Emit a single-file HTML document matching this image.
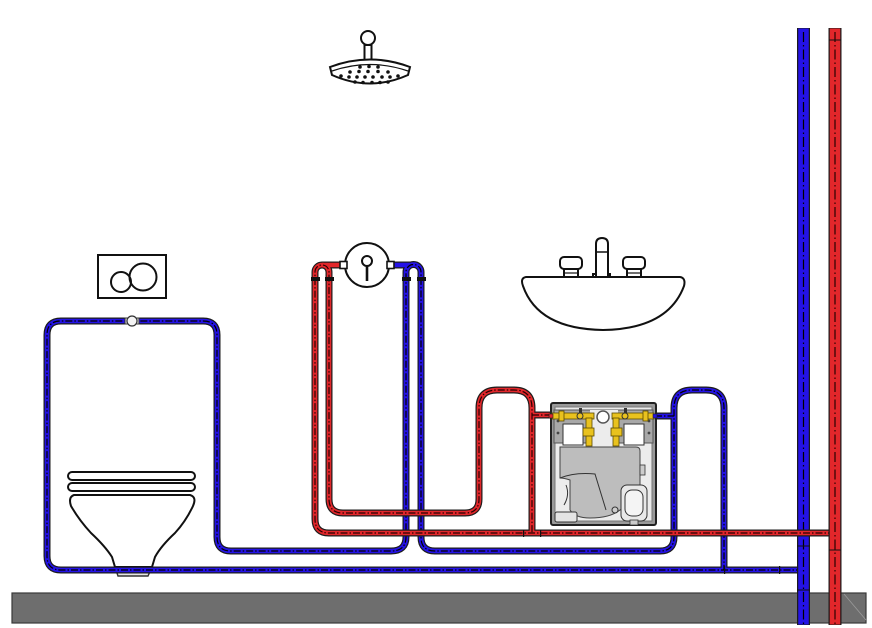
<!DOCTYPE html>
<html><head><meta charset="utf-8"><style>
html,body{margin:0;padding:0;background:#fff;}
svg{display:block;}
</style></head><body>
<svg width="872" height="628" viewBox="0 0 872 628" xmlns="http://www.w3.org/2000/svg">
<defs>
<style>
.po{fill:none;stroke:#1c1c1c;stroke-width:7;stroke-linejoin:round;}
.pb{fill:none;stroke:#2412e6;stroke-width:4.6;stroke-linejoin:round;}
.pr{fill:none;stroke:#e2272b;stroke-width:4.6;stroke-linejoin:round;}
.dc{fill:none;stroke:#000;stroke-width:1.2;stroke-dasharray:7 2 1.5 2;}
.dr{fill:none;stroke:#2a0000;stroke-width:1.2;stroke-dasharray:7 2 1.5 2;}
.ln{fill:#fff;stroke:#111;stroke-width:2;}
</style>
<path id="b1" fill="none" d="M803,570 H61 Q47,570 47,556 V335 Q47,321 61,321 H203 Q217,321 217,335 V537 Q217,551 231,551 H391 Q406,551 406,537 V272 A7.5,7.5 0 0 1 421,272 V537 Q421,551 435,551 H660 Q674,551 674,537 V408 Q674,390 692,390 H706 Q724,390 724,408 V570"/>
<path id="r1" fill="none" d="M835,533 H329 Q315,533 315,519 V272 A7,7 0 0 1 329,272 V499 Q329,513 343,513 H465 Q479,513 479,499 V408 Q479,390 497,390 H514 Q532,390 532,408 V533"/>
</defs>

<!-- floor -->
<rect x="12" y="593" width="854" height="30" fill="#6e6e6e" stroke="#3a3a3a" stroke-width="1.2"/>
<line x1="844" y1="594" x2="866" y2="620" stroke="#9a9a9a" stroke-width="0.8"/>

<!-- shower head -->
<circle cx="368" cy="38" r="7" class="ln" stroke-width="2.5"/>
<rect x="364.5" y="45" width="7" height="16" class="ln" stroke-width="2"/>
<path d="M330,67 Q370,52 410,67 L408,75 Q370,92 332,75 Z" class="ln" stroke-width="2.2"/>
<path d="M332,71 Q370,58 408,71" fill="none" stroke="#111" stroke-width="1.2"/>
<g fill="#111">
<circle cx="360" cy="67" r="1.8"/><circle cx="369" cy="66.5" r="1.8"/><circle cx="378" cy="67" r="1.8"/>
<circle cx="350" cy="72" r="1.8"/><circle cx="359" cy="71.5" r="1.8"/><circle cx="368" cy="71.5" r="1.8"/><circle cx="378" cy="71.5" r="1.8"/><circle cx="388" cy="72" r="1.8"/>
<circle cx="341" cy="76" r="1.8"/><circle cx="349" cy="77" r="1.8"/><circle cx="357" cy="77" r="1.8"/><circle cx="365" cy="77" r="1.8"/><circle cx="373" cy="77" r="1.8"/><circle cx="382" cy="77" r="1.8"/><circle cx="390" cy="77" r="1.8"/><circle cx="398" cy="76" r="1.8"/>
<circle cx="355" cy="82" r="1.8"/><circle cx="363" cy="82.5" r="1.8"/><circle cx="372" cy="82.5" r="1.8"/><circle cx="380" cy="82.5" r="1.8"/><circle cx="388" cy="82" r="1.8"/>
</g>

<!-- sink -->
<rect x="593" y="274" width="17" height="4" class="ln" stroke-width="1.6"/>
<path d="M596,277 V244 Q596,238 602,238 Q608,238 608,244 V277" class="ln" stroke-width="2"/>
<line x1="596" y1="252" x2="608" y2="252" stroke="#111" stroke-width="1.5"/>
<rect x="564" y="266" width="14" height="11" class="ln" stroke-width="1.8"/>
<line x1="564" y1="273" x2="578" y2="273" stroke="#111" stroke-width="1.2"/>
<rect x="560" y="257" width="22" height="12" rx="4" class="ln" stroke-width="2"/>
<rect x="627" y="266" width="14" height="11" class="ln" stroke-width="1.8"/>
<line x1="627" y1="273" x2="641" y2="273" stroke="#111" stroke-width="1.2"/>
<rect x="623" y="257" width="22" height="12" rx="4" class="ln" stroke-width="2"/>
<path d="M526,277 H680 Q686,278 684,286 Q668,329 603,330 Q538,329 523,286 Q520,278 526,277 Z" class="ln" stroke-width="2.2"/>

<!-- flush plate -->
<rect x="98" y="255" width="68" height="43" class="ln" stroke-width="2"/>
<circle cx="121" cy="282" r="10" fill="none" stroke="#111" stroke-width="2"/>
<circle cx="143" cy="277" r="13.5" fill="none" stroke="#111" stroke-width="2"/>

<!-- toilet -->
<rect x="68" y="472" width="127" height="8" rx="4" class="ln" stroke-width="2"/>
<rect x="68" y="483" width="127" height="8" rx="4" class="ln" stroke-width="2"/>
<path d="M74,495 H190 Q197,497 193,506 Q186,521 175,533 Q161,546 155,557 L152,567 H115 L112,557 Q105,546 91,533 Q79,520 71,506 Q68,497 74,495 Z" class="ln" stroke-width="2"/>
<path d="M115,567 L118,576 H148 L152,567" fill="#e6e6e6" stroke="#333" stroke-width="1.4"/>

<!-- ===== BLUE PIPES ===== -->
<use href="#b1" class="po"/>
<path d="M390,265 H410 M655,416 H674" class="po"/>
<use href="#b1" class="pb"/>
<path d="M390,265 H410 M655,416 H674" class="pb"/>
<use href="#b1" class="dc"/>
<path d="M655,416 H674" class="dc"/>

<!-- blue riser -->
<line x1="803.5" y1="28" x2="803.5" y2="625" stroke="#1c1c1c" stroke-width="13"/>
<line x1="803.5" y1="28.5" x2="803.5" y2="624.5" stroke="#2412e6" stroke-width="10.5"/>
<line x1="803.5" y1="32" x2="803.5" y2="624" stroke="#000" stroke-width="1.2" stroke-dasharray="10 3 1.5 3"/>
<g stroke="#111" stroke-width="1">
<line x1="797" y1="546" x2="810" y2="546"/><line x1="797" y1="590" x2="810" y2="590"/>
</g>

<!-- ===== RED PIPES ===== -->
<use href="#r1" class="po"/>
<path d="M322,265 H346 M532,415 H554" class="po"/>
<use href="#r1" class="pr"/>
<path d="M322,265 H346 M532,415 H554" class="pr"/>
<use href="#r1" class="dr"/>
<path d="M532,415 H554" class="dr"/>

<!-- red riser -->
<line x1="835" y1="28" x2="835" y2="625" stroke="#1c1c1c" stroke-width="13"/>
<line x1="835" y1="28.5" x2="835" y2="624.5" stroke="#e2272b" stroke-width="10.5"/>
<line x1="835" y1="32" x2="835" y2="624" stroke="#2a0000" stroke-width="1.2" stroke-dasharray="10 3 1.5 3"/>
<g stroke="#111" stroke-width="1">
<line x1="829" y1="40" x2="841" y2="40"/><line x1="829" y1="550" x2="841" y2="550"/>
</g>

<!-- fittings / ticks -->
<g fill="#111">
<rect x="311" y="277" width="9" height="4"/><rect x="325" y="277" width="9" height="4"/>
<rect x="402" y="277" width="9" height="4"/><rect x="417" y="277" width="9" height="4"/>
<rect x="523" y="530" width="1.2" height="7"/><rect x="540" y="530" width="1.2" height="7"/>
<rect x="724" y="566" width="1.2" height="8"/><rect x="779" y="566" width="1.2" height="8"/>
</g>

<!-- toilet loop fitting -->
<rect x="125" y="318" width="14" height="6" fill="#ddd" stroke="#333" stroke-width="1"/>
<circle cx="132" cy="321" r="5" fill="#f4f4f4" stroke="#333" stroke-width="1.2"/>

<!-- shower valve -->
<circle cx="367" cy="265" r="22" class="ln" stroke-width="2"/>
<rect x="340" y="261.5" width="7" height="7" fill="#fff" stroke="#111" stroke-width="1.6"/>
<rect x="387" y="261.5" width="7" height="7" fill="#fff" stroke="#111" stroke-width="1.6"/>
<circle cx="367" cy="261" r="5" fill="#fff" stroke="#111" stroke-width="2"/>
<line x1="367" y1="266" x2="367" y2="281" stroke="#111" stroke-width="2.6"/>

<!-- concealed module box -->
<rect x="551" y="403" width="105" height="122" rx="2" fill="#9a9a9a" stroke="#222" stroke-width="2"/>
<rect x="555" y="407" width="97" height="114" fill="#ececec" stroke="#777" stroke-width="1"/>
<rect x="554" y="410" width="99" height="33" fill="#a8a8a8" stroke="#555" stroke-width="1"/>
<circle cx="558" cy="433" r="1.4" fill="#444"/><circle cx="649" cy="433" r="1.4" fill="#444"/>
<circle cx="558" cy="421" r="1.4" fill="#444"/><circle cx="649" cy="421" r="1.4" fill="#444"/>
<rect x="563" y="424" width="20" height="21" fill="#fff" stroke="#333" stroke-width="1"/>
<rect x="624" y="424" width="20" height="21" fill="#fff" stroke="#333" stroke-width="1"/>
<rect x="590" y="410" width="28" height="35" fill="#ececec"/>
<circle cx="603" cy="417" r="6" fill="#fff" stroke="#555" stroke-width="1.5"/>
<g fill="#e9c21e" stroke="#5a4a00" stroke-width="0.8">
<rect x="552" y="413" width="42" height="6"/>
<rect x="612" y="413" width="42" height="6"/>
<rect x="586" y="418" width="6" height="28"/>
<rect x="613" y="418" width="6" height="28"/>
<rect x="559" y="411" width="5" height="10"/><rect x="643" y="411" width="5" height="10"/>
<rect x="583" y="428" width="11" height="8"/><rect x="611" y="428" width="11" height="8"/>
</g>
<circle cx="580" cy="416" r="3" fill="#e9c21e" stroke="#333" stroke-width="1"/>
<circle cx="625" cy="416" r="3" fill="#e9c21e" stroke="#333" stroke-width="1"/>
<rect x="579" y="408" width="3" height="5" fill="#333"/><rect x="624" y="408" width="3" height="5" fill="#333"/>
<rect x="549" y="414" width="4" height="4" fill="#e2272b" stroke="#222" stroke-width="0.6"/>
<rect x="653" y="414" width="4" height="4" fill="#2412e6" stroke="#222" stroke-width="0.6"/>
<path d="M560,447 H636 Q640,447 640,451 V498 Q630,505 620,510 Q610,518 590,518 Q575,518 570,510 V480 Q564,478 560,478 Z" fill="#bdbdbd" stroke="#444" stroke-width="1"/>
<path d="M560,478 Q575,472 595,474 L606,510" fill="none" stroke="#333" stroke-width="1"/>
<path d="M564,505 Q570,495 566,485" fill="none" stroke="#333" stroke-width="1"/>
<rect x="640" y="465" width="5" height="10" fill="#ccc" stroke="#333" stroke-width="0.8"/>
<rect x="621" y="485" width="26" height="36" rx="6" fill="#e8e8e8" stroke="#333" stroke-width="1"/>
<rect x="625" y="490" width="18" height="26" rx="7" fill="#f4f4f4" stroke="#333" stroke-width="1"/>
<circle cx="615" cy="510" r="3" fill="#ccc" stroke="#333" stroke-width="1"/>
<rect x="555" y="512" width="22" height="10" rx="2" fill="#e4e4e4" stroke="#333" stroke-width="1"/>
<rect x="630" y="520" width="8" height="5" fill="#ccc" stroke="#333" stroke-width="0.8"/>
</svg>
</body></html>
